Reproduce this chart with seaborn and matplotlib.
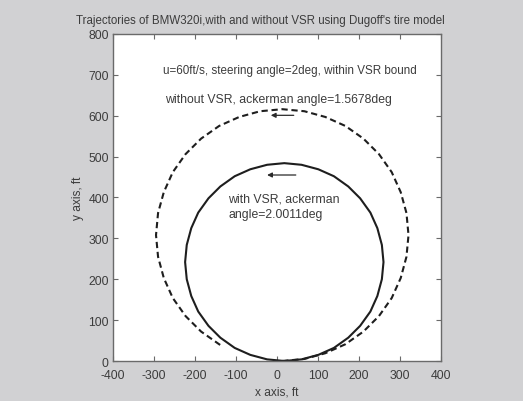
import matplotlib
matplotlib.use("Agg")
import matplotlib.pyplot as plt
import seaborn as sns
import pandas as pd

# Trajectory without VSR (ackerman angle 1.5678 deg), ft
without_x = [13, 67, 118, 167, 211, 249, 280, 302, 316, 321, 316, 302, 280, 249,
             211, 167, 118, 67, 13, -41, -92, -141, -185, -223, -254, -276, -290,
             -295, -290, -276, -254, -223, -185, -141, -136]
without_y = [0, 5, 19, 41, 72, 110, 154, 203, 255, 308, 362, 413, 462, 506,
             544, 575, 597, 611, 616, 611, 597, 575, 544, 506, 462, 413, 362,
             308, 255, 203, 154, 110, 72, 41, 38]

# Trajectory with VSR (ackerman angle 2.0011 deg), ft
with_x = [18, 60, 101, 139, 174, 203, 228, 245, 256, 260, 256, 245, 228, 203,
          174, 139, 101, 60, 18, -24, -65, -103, -138, -167, -192, -209, -220,
          -224, -220, -209, -192, -167, -138, -103, -65, -24, 18]
with_y = [0, 4, 15, 32, 57, 86, 121, 159, 200, 242, 284, 325, 363, 398,
          427, 452, 469, 480, 484, 480, 469, 452, 427, 398, 363, 325, 284,
          242, 200, 159, 121, 86, 57, 32, 15, 4, 0]

# Direction-of-travel arrows: (x_tail, x_head, y)
arrow_without = (41, -15, 601)
arrow_with = (46, -24, 455)

x_ticks = [-400, -300, -200, -100, 0, 100, 200, 300, 400]
y_ticks = [0, 100, 200, 300, 400, 500, 600, 700, 800]

sns.set_theme(style="ticks")
plt.rcParams["font.family"] = ["Liberation Sans", "DejaVu Sans"]

TEXT = "#3c3c3c"
BG = "#d1d1d3"

fig = plt.figure(figsize=(5.23, 4.02), dpi=100, facecolor=BG)
ax = fig.add_axes([0.216, 0.0995, 0.627, 0.8135])
ax.set_facecolor("white")

df_without = pd.DataFrame({"x": without_x, "y": without_y})
df_with = pd.DataFrame({"x": with_x, "y": with_y})

sns.lineplot(data=df_without, x="x", y="y", sort=False, estimator=None,
             ax=ax, color="#1e1e1e", linewidth=1.5, linestyle=(0, (3.0, 1.8)))
sns.lineplot(data=df_with, x="x", y="y", sort=False, estimator=None,
             ax=ax, color="#1e1e1e", linewidth=1.5)

for tail, head, yy in (arrow_without, arrow_with):
    ax.annotate("", xy=(head, yy), xytext=(tail, yy),
                arrowprops=dict(arrowstyle="-|>", color="#2a2a2a", lw=0.9,
                                mutation_scale=7, shrinkA=0, shrinkB=0))

fs = 8.4
ax.text(32, 711, "u=60ft/s, steering angle=2deg, within VSR bound",
        ha="center", va="center", fontsize=fs, color=TEXT)
ax.text(4, 640, "without VSR, ackerman angle=1.5678deg",
        ha="center", va="center", fontsize=8.8, color=TEXT)
ax.text(-119, 398, "with VSR, ackerman",
        ha="left", va="center", fontsize=8.8, color=TEXT)
ax.text(-119, 359, "angle=2.0011deg",
        ha="left", va="center", fontsize=8.8, color=TEXT)

ax.set_xlim(-400, 400)
ax.set_ylim(0, 800)
ax.set_xticks(x_ticks)
ax.set_yticks(y_ticks)
ax.set_xticklabels([str(v) for v in x_ticks])
ax.set_yticklabels([str(v) for v in y_ticks])

for side in ("top", "right", "bottom", "left"):
    ax.spines[side].set_visible(True)
    ax.spines[side].set_color("#6a6a6a")
    ax.spines[side].set_linewidth(1.0)

ax.tick_params(direction="in", length=3.5, width=0.8, colors="#6a6a6a",
               labelcolor=TEXT, labelsize=8.8, top=True, right=True)
ax.tick_params(axis="x", pad=6)
ax.tick_params(axis="y", pad=3)

ax.set_xlabel("x axis, ft", fontsize=8.6, color=TEXT, labelpad=3)
ax.set_ylabel("y axis, ft", fontsize=8.6, color=TEXT, labelpad=3)
fig.text(260 / 523, 1 - 21 / 402,
         "Trajectories of BMW320i,with and without VSR using Dugoff's tire model",
         ha="center", va="center", fontsize=8.3, color=TEXT)

fig.savefig("out.png", dpi=100, facecolor=BG)
